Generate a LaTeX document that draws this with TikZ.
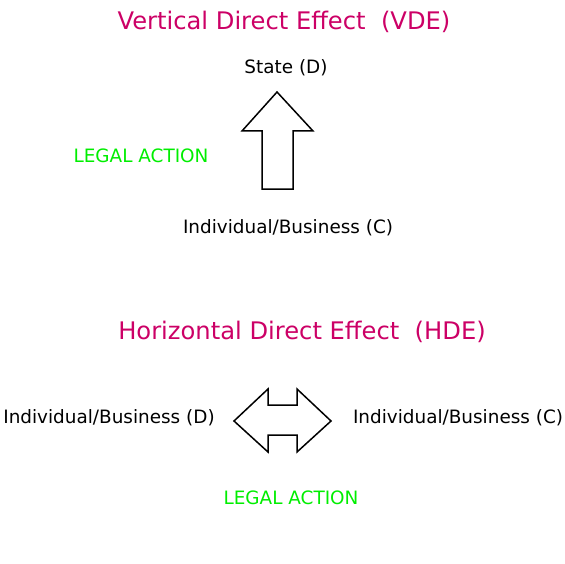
\documentclass[tikz,border=0pt]{standalone}
\usepackage{fontspec}
\setmainfont{DejaVu Sans}
\usepackage{xcolor}
\definecolor{titlered}{RGB}{204,0,102}
\definecolor{actiongreen}{RGB}{0,238,0}
\begin{document}
\begin{tikzpicture}[x=1pt,y=-1pt,
		title/.style={text=titlered,font=\fontsize{24.2}{28}\selectfont},
		party/.style={font=\fontsize{18.4}{22}\selectfont},
		action/.style={text=actiongreen,font=\fontsize{18.4}{22}\selectfont},
		outline/.style={draw=black,line width=1.5pt,line join=miter}]
		\useasboundingbox (0,0) rectangle (564,564);
		% Vertical direct effect
		\node[title] (vde) at (284,21.5) {Vertical Direct Effect\ \ (VDE)};
		\node[party] (state) at (286,68) {State (D)};
		\node[action] (actv) at (141,156) {LEGAL ACTION};
		\node[party] (indc) at (288,228) {Individual/Business (C)};
		\draw[outline] (277,92) -- (242,131) -- (262,131) -- (262,189)
		-- (293,189) -- (293,131) -- (313,131) -- cycle;
		% Horizontal direct effect
		\node[title] (hde) at (302,331.5) {Horizontal Direct Effect\ \ (HDE)};
		\node[party] (leftd) at (109,418) {Individual/Business (D)};
		\node[party] (rightc) at (458,418) {Individual/Business (C)};
		\node[action] (acth) at (291,498) {LEGAL ACTION};
		\draw[outline] (234,421) -- (268,389) -- (268,405) -- (297,405)
		-- (297,389) -- (331,421) -- (297,452) -- (297,435) -- (268,435)
		-- (268,452) -- cycle;
	\end{tikzpicture}
\end{document}
